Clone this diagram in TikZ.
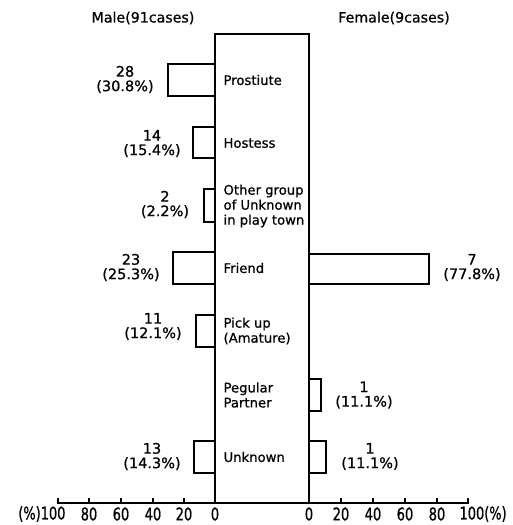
\documentclass[tikz,border=0pt]{standalone}
\usepackage{fontspec}
\setmainfont{DejaVu Sans}[FakeBold=0.8]
\newfontfamily\axfont{DejaVu Sans}[FakeStretch=0.74,FakeBold=0.8]
\begin{document}
\begin{tikzpicture}[x=1pt,y=-1pt,
  line width=1.1pt,
  lbl/.style={inner sep=0pt,align=left,anchor=west,font=\fontsize{13.2}{15}\selectfont},
  val/.style={inner sep=0pt,align=center,font=\fontsize{14.5}{14.5}\selectfont},
  ttl/.style={inner sep=0pt,font=\fontsize{14.2}{16}\selectfont},
  ax/.style={inner sep=0pt,font=\axfont\fontsize{17.5}{18}\selectfont},
  bar/.style={draw,line width=1.1pt}]
\useasboundingbox (0,0) rectangle (512,525);
% titles
\node[ttl] (male) at (143,18) {Male(91cases)};
\node[ttl] (female) at (394,18) {Female(9cases)};
% central box
\draw (215,34) rectangle (309,503);
% male bars
\draw[bar] (215,64) -- (168,64) -- (168,96) -- (215,96);
\draw[bar] (215,127) -- (193,127) -- (193,158) -- (215,158);
\draw[bar] (215,189) -- (204,189) -- (204,222) -- (215,222);
\draw[bar] (215,252) -- (173,252) -- (173,284) -- (215,284);
\draw[bar] (215,315) -- (196,315) -- (196,347) -- (215,347);
\draw[bar] (215,441) -- (194,441) -- (194,473) -- (215,473);
% female bars
\draw[bar] (309,254) -- (429,254) -- (429,284) -- (309,284);
\draw[bar] (309,379) -- (321,379) -- (321,411) -- (309,411);
\draw[bar] (309,441) -- (326,441) -- (326,473) -- (309,473);
% category labels
\node[lbl] (c1) at (223,80) {Prostiute};
\node[lbl] (c2) at (223,143) {Hostess};
\node[lbl] (c3) at (223,206) {Other group\\of Unknown\\in play town};
\node[lbl] (c4) at (223,268) {Friend};
\node[lbl] (c5) at (223,331) {Pick up\\(Amature)};
\node[lbl] (c6) at (223,395) {Pegular\\Partner};
\node[lbl] (c7) at (223,457) {Unknown};
% male values
\node[val] (m1) at (125,79.5) {28\\(30.8\%)};
\node[val] (m2) at (152,143.5) {14\\(15.4\%)};
\node[val] (m3) at (165,204.5) {2\\(2.2\%)};
\node[val] (m4) at (131,267.5) {23\\(25.3\%)};
\node[val] (m5) at (153,326.5) {11\\(12.1\%)};
\node[val] (m7) at (152,456.5) {13\\(14.3\%)};
% female values
\node[val] (f4) at (472,267.5) {7\\(77.8\%)};
\node[val] (f6) at (364,395) {1\\(11.1\%)};
\node[val] (f7) at (370,456.5) {1\\(11.1\%)};
% axis
\draw (58,498) -- (58,503) -- (468,503) -- (468,498);
\foreach \x in {89,121,153,184} \draw (\x,498) -- (\x,503);
\foreach \x in {341,373,405,437} \draw (\x,498) -- (\x,503);
% axis labels
\node[ax,anchor=east] (l100) at (66,514) {(\%)100};
\node[ax] (l80) at (89,514) {80};
\node[ax] (l60) at (121,514) {60};
\node[ax] (l40) at (153,514) {40};
\node[ax] (l20) at (184,514) {20};
\node[ax] (l0) at (215,514) {0};
\node[ax] (r0) at (309,514) {0};
\node[ax] (r20) at (341,514) {20};
\node[ax] (r40) at (373,514) {40};
\node[ax] (r60) at (405,514) {60};
\node[ax] (r80) at (437,514) {80};
\node[ax,anchor=west] (r100) at (459,514) {100(\%)};
\end{tikzpicture}
\end{document}
